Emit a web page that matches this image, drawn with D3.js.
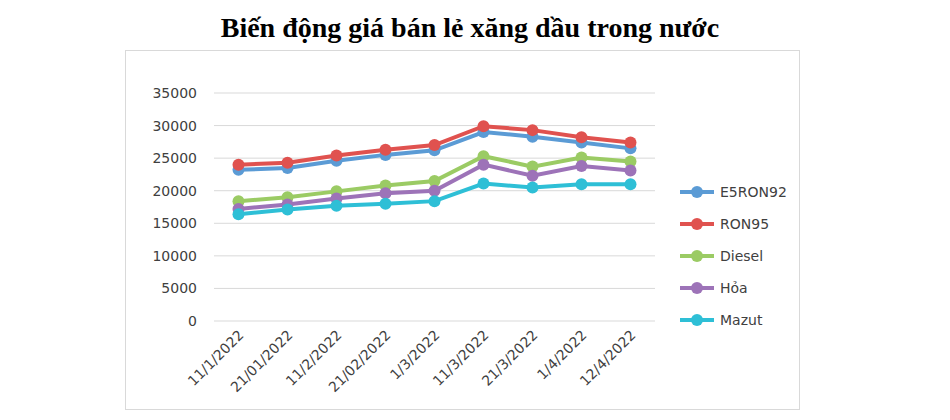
<!DOCTYPE html>
<html><head><meta charset="utf-8">
<script src="https://cdn.jsdelivr.net/npm/d3@7"></script>
<style>body{margin:0;background:#fff}</style>
</head><body>
<svg id="chart" width="950" height="420"></svg>
<script>
var dates = ["11/1/2022","21/01/2022","11/2/2022","21/02/2022","1/3/2022","11/3/2022","21/3/2022","1/4/2022","12/4/2022"];
var seriesNames = ["E5RON92","RON95","Diesel","Hỏa","Mazut"];
var colors = ["#5b9bd5","#e0524f","#9bcb64","#9d73b8","#2ebfd6"];
var e5 = [23200,23500,24600,25500,26200,29000,28300,27400,26500];
var ron95 = [24000,24300,25400,26300,27000,29900,29300,28200,27400];
var diesel = [18400,19000,19900,20800,21500,25300,23700,25100,24500];
var hoa = [17200,17900,18800,19600,20000,24000,22300,23800,23100];
var mazut = [16400,17100,17700,18000,18400,21100,20500,21000,21000];
var yTicks = [0,5000,10000,15000,20000,25000,30000,35000];
var allSeries = [e5,ron95,diesel,hoa,mazut];

var svg = d3.select("#chart");
svg.append("rect").attr("x",125.5).attr("y",50.5).attr("width",674).attr("height",359)
  .attr("fill","#fff").attr("stroke","#d9d9d9");
svg.append("text").attr("x",470).attr("y",37).attr("text-anchor","middle")
  .attr("font-family","Liberation Serif").attr("font-weight","bold").attr("font-size",28)
  .text("Biến động giá bán lẻ xăng dầu trong nước");

var x = d3.scaleBand().domain(dates).range([214,655]);
var y = d3.scaleLinear().domain([0,35000]).range([321,93]);

var g = svg.append("g");
g.selectAll("line.grid").data(yTicks).enter().append("line")
  .attr("x1",214).attr("x2",655).attr("y1",d=>y(d)).attr("y2",d=>y(d))
  .attr("stroke","#d9d9d9");
g.selectAll("text.yl").data(yTicks).enter().append("text")
  .attr("x",197).attr("y",d=>y(d)+5).attr("text-anchor","end")
  .attr("font-family","DejaVu Sans").attr("font-size",14).attr("fill","#404040")
  .text(d=>d);
g.selectAll("text.xl").data(dates).enter().append("text")
  .attr("transform",d=>"translate("+(x(d)+x.bandwidth()/2+6)+",336) rotate(-45)")
  .attr("text-anchor","end")
  .attr("font-family","DejaVu Sans").attr("font-size",14).attr("fill","#404040")
  .text(d=>d);

var line = d3.line().x((d,i)=>x(dates[i])+x.bandwidth()/2).y(d=>y(d));
allSeries.forEach(function(s,k){
  g.append("path").attr("d",line(s)).attr("fill","none")
    .attr("stroke",colors[k]).attr("stroke-width",4);
  g.selectAll("circle.s"+k).data(s).enter().append("circle")
    .attr("cx",(d,i)=>x(dates[i])+x.bandwidth()/2).attr("cy",d=>y(d))
    .attr("r",6).attr("fill",colors[k]);
});

var lg = svg.append("g");
seriesNames.forEach(function(n,k){
  var ly = 192+k*32;
  lg.append("line").attr("x1",680).attr("x2",714).attr("y1",ly).attr("y2",ly)
    .attr("stroke",colors[k]).attr("stroke-width",4);
  lg.append("circle").attr("cx",697).attr("cy",ly).attr("r",6).attr("fill",colors[k]);
  lg.append("text").attr("x",720).attr("y",ly+5)
    .attr("font-family","DejaVu Sans").attr("font-size",14).attr("fill","#404040").text(n);
});
</script>
</body></html>
